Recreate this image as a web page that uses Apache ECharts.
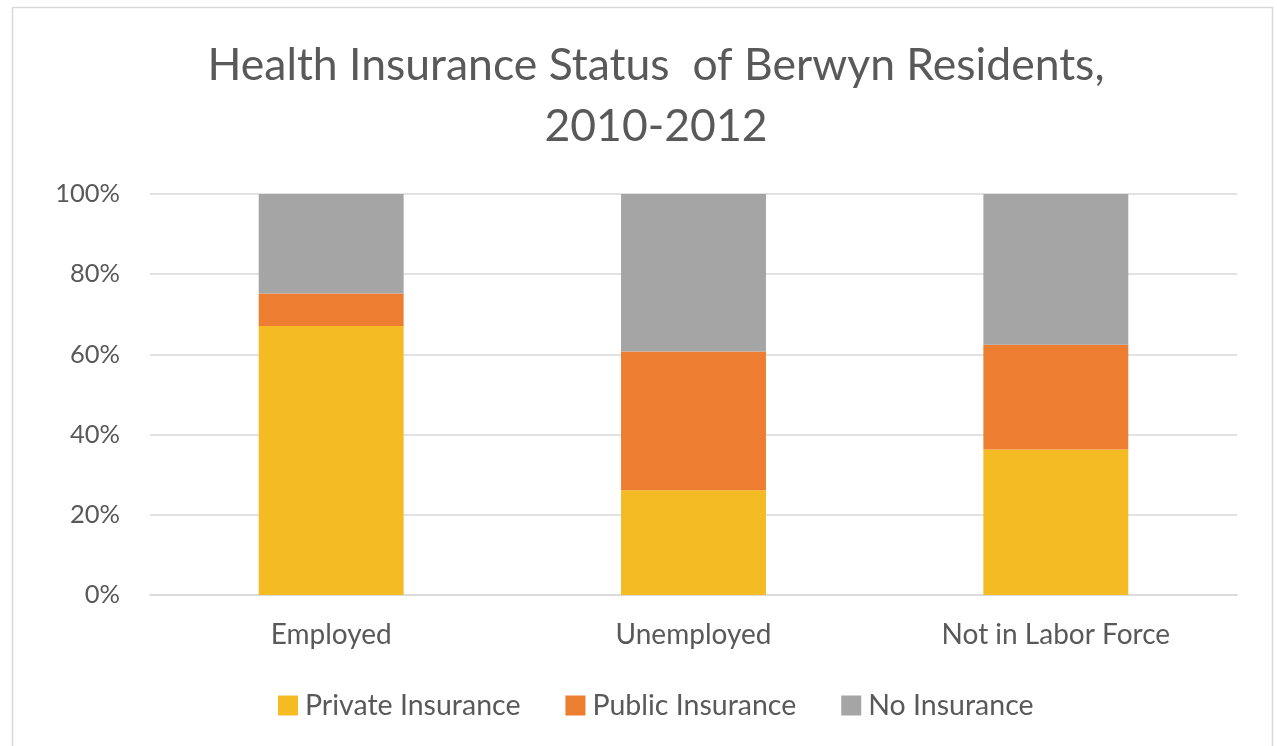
<!DOCTYPE html>
<html><head><meta charset="utf-8">
<script src="https://cdn.jsdelivr.net/npm/echarts@6/dist/echarts.min.js"></script>
<style>html,body{margin:0;padding:0;background:#fff}#c{width:1277px;height:746px}</style>
</head><body><div id="c"></div>
<script>
const categories = ['Employed', 'Unemployed', 'Not in Labor Force'];
const privateIns = [67.1, 26.1, 36.3];
const publicIns = [8.1, 34.6, 26.1];
const noIns = [24.8, 39.3, 37.6];
const seriesNames = ['Private Insurance', 'Public Insurance', 'No Insurance'];

const FONT = 'Lato';
const chart = echarts.init(document.getElementById('c'), null, {renderer: 'canvas'});
chart.setOption({
  animation: false,
  backgroundColor: '#fff',
  graphic: [{type: 'rect', shape: {x: 12.5, y: 7.5, width: 1260, height: 760}, style: {fill: 'none', stroke: '#d9d9d9', lineWidth: 1.5}, silent: true}],
  title: {
    text: 'Health Insurance Status  of Berwyn Residents,\n2010-2012',
    left: 651, top: 30, textAlign: 'center',
    textStyle: {fontFamily: FONT, fontSize: 44.5, fontWeight: 'normal', color: '#595959', lineHeight: 61}
  },
  legend: {
    data: seriesNames, bottom: 26, left: 278, width: 950, itemWidth: 20, itemHeight: 20, itemGap: 45,
    icon: 'rect', padding: 0,
    textStyle: {fontFamily: FONT, fontSize: 28.5, color: '#595959', padding: [0, 0, 0, 2]}
  },
  grid: {left: 150, right: 40, top: 194, bottom: 151, containLabel: false},
  xAxis: {
    type: 'category', data: categories,
    axisLine: {lineStyle: {color: '#d9d9d9', width: 1.5}}, axisTick: {show: false},
    axisLabel: {fontFamily: FONT, fontSize: 28, color: '#595959', margin: 26}
  },
  yAxis: {
    type: 'value', min: 0, max: 100, interval: 20,
    axisLine: {show: false}, axisTick: {show: false},
    splitLine: {lineStyle: {color: '#d9d9d9', width: 1.5}},
    axisLabel: {fontFamily: FONT, fontSize: 25.5, color: '#595959', margin: 30, formatter: '{value}%'}
  },
  series: [
    {name: seriesNames[0], type: 'bar', stack: 's', data: privateIns, barWidth: '40%', itemStyle: {color: '#F4BC22'}},
    {name: seriesNames[1], type: 'bar', stack: 's', data: publicIns, barWidth: '40%', itemStyle: {color: '#ED7D31'}},
    {name: seriesNames[2], type: 'bar', stack: 's', data: noIns, barWidth: '40%', itemStyle: {color: '#A5A5A5'}}
  ]
});
</script></body></html>
